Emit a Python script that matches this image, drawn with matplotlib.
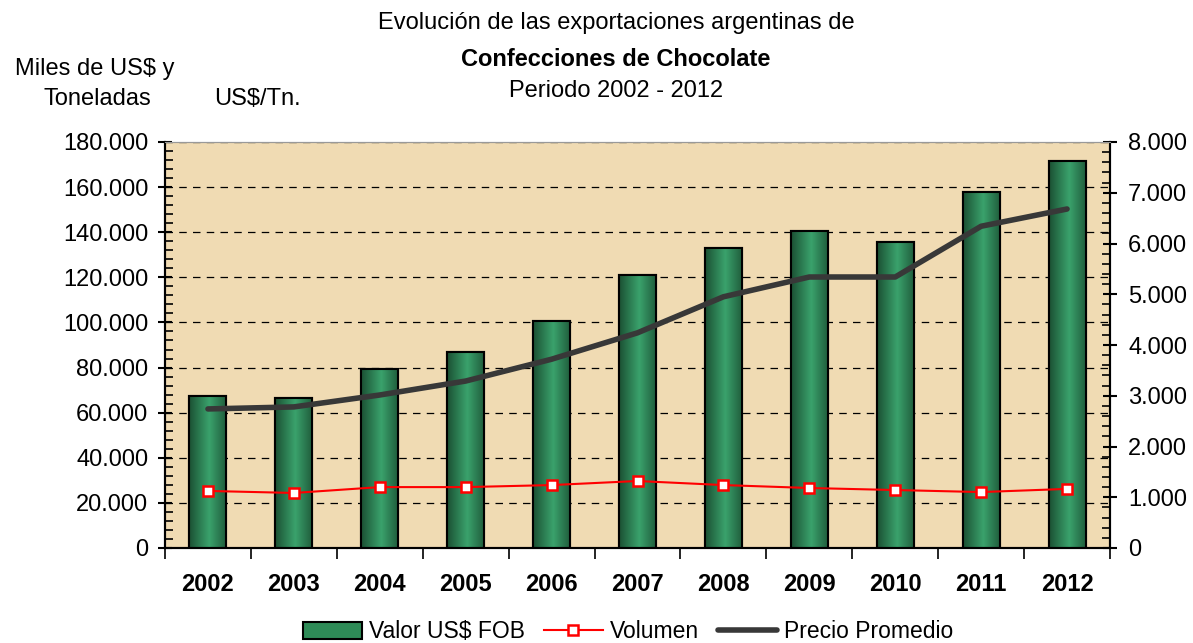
import matplotlib
matplotlib.use("Agg")
import matplotlib.pyplot as plt
import numpy as np
from matplotlib.ticker import MultipleLocator, FuncFormatter
from matplotlib.lines import Line2D
from matplotlib.patches import Patch
from matplotlib.colors import LinearSegmentedColormap

plt.rcParams['font.family'] = ['Liberation Sans', 'DejaVu Sans']

years = ['2002', '2003', '2004', '2005', '2006', '2007', '2008', '2009', '2010', '2011', '2012']
valor = [67400, 66500, 79300, 86900, 100600, 121000, 133000, 140500, 135600, 157800, 171500]
volumen = [25300, 24400, 27000, 27000, 27900, 29700, 27900, 26600, 25700, 24800, 26200]
precio = [2740, 2780, 3015, 3290, 3720, 4240, 4950, 5340, 5340, 6340, 6680]

FS = 17

fig = plt.figure(figsize=(11.93, 6.43), dpi=100)
ax = fig.add_axes([165/1193, 95/643, 945/1193, 406/643])
ax2 = ax.twinx()

x = np.arange(len(years))
ax.set_facecolor('#f0dbb3')

# gradient bars
bars = ax.bar(x, valor, width=0.43, color='#2e8b57', edgecolor='black', linewidth=1.5, zorder=3)
grad = np.linspace(0, 1, 64)
prof = np.clip(1 - np.abs(grad - 0.55) * 1.8, 0, 1)
cmap = LinearSegmentedColormap.from_list('g', ['#1b5033', '#3aa26c'])
img = np.tile(prof, (2, 1))
for b in bars:
    x0, w, h = b.get_x(), b.get_width(), b.get_height()
    im = ax.imshow(img, cmap=cmap, aspect='auto', extent=[x0, x0 + w, 0, h], zorder=3.1, vmin=0, vmax=1)
    im.set_clip_path(b)
    ax.bar(x0 + w/2, h, width=w, fill=False, edgecolor='black', linewidth=1.5, zorder=3.2)
ax.set_xlim(-0.5, len(years) - 0.5)
ax.set_ylim(0, 180000)
ax2.set_ylim(0, 8000)

# grid
for yv in range(20000, 180001, 20000):
    ax.axhline(yv, color='black', linestyle=(0, (6, 5)), linewidth=0.9, zorder=1)

ax.plot(x, volumen, color='red', linewidth=1.5, marker='s', markersize=7,
        markerfacecolor='white', markeredgecolor='red', markeredgewidth=1.8, zorder=5)
ax2.plot(x, precio, color='#383838', linewidth=4, solid_capstyle='round', zorder=6)

fmt = FuncFormatter(lambda v, p: '0' if v == 0 else f'{int(v):,}'.replace(',', '.'))
ax.yaxis.set_major_locator(MultipleLocator(20000))
ax.yaxis.set_minor_locator(MultipleLocator(4000))
ax.yaxis.set_major_formatter(fmt)
ax2.yaxis.set_major_locator(MultipleLocator(1000))
ax2.yaxis.set_minor_locator(MultipleLocator(200))
ax2.yaxis.set_major_formatter(fmt)

ax.tick_params(axis='y', which='major', direction='inout', length=10, width=1.5, labelsize=FS, pad=7)
ax.tick_params(axis='y', which='minor', direction='in', length=6, width=1.2)
ax2.tick_params(axis='y', which='major', direction='inout', length=10, width=1.5, labelsize=FS, pad=8)
ax2.tick_params(axis='y', which='minor', direction='in', length=6, width=1.2)

ax.set_xticks(np.arange(-0.5, len(years) + 0.5, 1))
ax.set_xticklabels([])
ax.set_xticks(x, minor=True)
ax.set_xticklabels(years, minor=True, fontsize=FS, fontweight='bold')
ax.tick_params(axis='x', which='major', direction='out', length=8, width=1.2)
ax.tick_params(axis='x', which='minor', length=0, pad=18)

for a in (ax, ax2):
    a.spines['top'].set_color('#999999')
    a.spines['left'].set_linewidth(1.5)
    a.spines['right'].set_linewidth(1.5)
    a.spines['bottom'].set_linewidth(1.5)
ax2.patch.set_visible(False)

fig.text(616/1193, 1 - 23/643, 'Evolución de las exportaciones argentinas de', ha='center', va='center', fontsize=FS)
fig.text(616/1193, 1 - 59/643, 'Confecciones de Chocolate', ha='center', va='center', fontsize=FS, fontweight='bold')
fig.text(616/1193, 1 - 91/643, 'Periodo 2002 - 2012', ha='center', va='center', fontsize=FS)
fig.text(95/1193, 1 - 69/643, 'Miles de US$ y', ha='center', va='center', fontsize=FS)
fig.text(97/1193, 1 - 99/643, 'Toneladas', ha='center', va='center', fontsize=FS)
fig.text(257/1193, 1 - 99/643, 'US$/Tn.', ha='center', va='center', fontsize=FS)

handles = [Patch(facecolor='#2e8b57', edgecolor='black', linewidth=1.5),
           Line2D([], [], color='red', linewidth=1.5, marker='s', markersize=7,
                  markerfacecolor='white', markeredgecolor='red', markeredgewidth=1.8),
           Line2D([], [], color='#383838', linewidth=4, solid_capstyle='round')]
fig.legend(handles, ['Valor US$ FOB', 'Volumen', 'Precio Promedio'], loc='center',
           bbox_to_anchor=(628/1193, 1 - 632/643), ncol=3, frameon=False, fontsize=16.5,
           handlelength=2.6, columnspacing=0.8, handletextpad=0.3, borderpad=0.1)

fig.savefig('out.png', dpi=100)
